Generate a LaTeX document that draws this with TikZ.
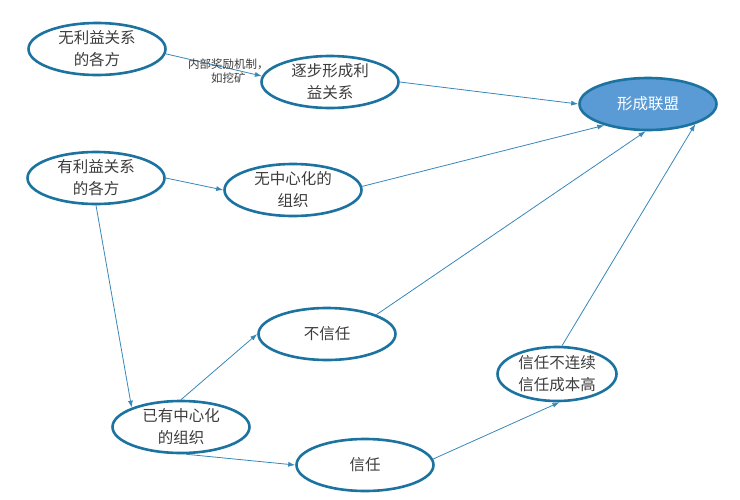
\documentclass[tikz,border=0pt]{standalone}
\usepackage{fontspec}
\setmainfont{Noto Sans CJK SC}
\usetikzlibrary{shapes.geometric,arrows.meta}

\definecolor{rimblue}{RGB}{28,115,160}
\definecolor{fillblue}{RGB}{91,155,213}
\definecolor{lineblue}{RGB}{55,135,185}
\definecolor{txtgray}{RGB}{60,60,60}

\tikzset{
  party/.style={ellipse, draw=rimblue, line width=2.6pt, minimum width=137pt,
    minimum height=52pt, inner sep=0pt, align=center, text=txtgray,
    font=\fontsize{15.5}{22}\selectfont},
  alliance/.style={party, fill=fillblue, text=white},
  flow/.style={draw=lineblue, line width=0.8pt, -{Latex[length=7pt,width=5pt]}},
  note/.style={font=\fontsize{11.5}{13.5}\selectfont, text=txtgray, align=center}
}

\begin{document}
\begin{tikzpicture}[x=1pt,y=-1pt]
\useasboundingbox (0,0) rectangle (740,499);

\node[party] (nofav) at (97,49) {无利益关系\\的各方};
\node[party] (gradual) at (330,82) {逐步形成利\\益关系};
\node[alliance] (union) at (648,104) {形成联盟};
\node[party] (fav) at (96,178) {有利益关系\\的各方};
\node[party] (decent) at (293,190) {无中心化的\\组织};
\node[party] (distrust) at (327,334) {不信任};
\node[party] (central) at (181,427) {已有中心化\\的组织};
\node[party] (trust) at (365,465) {信任};
\node[party, minimum width=119pt, minimum height=54pt] (costly) at (557,374) {信任不连续\\信任成本高};

% upper row
\draw[flow] (nofav.-4) -- node[note, pos=0.6, xshift=5pt, yshift=-4pt] {内部奖励机制，\\如挖矿} (gradual.175);
\draw[flow] (gradual.east) -- (union.west);
\draw[flow] (fav.east) -- (decent.west);
\draw[flow] (decent.3) -- (union.206);

% centralised branch
\draw[flow] (fav.south) -- (central.north west);
\draw[flow] (central.north) -- (distrust.west);
\draw[flow] (distrust.north east) -- (union.-95);
\draw[flow] (central.-80) -- (trust.west);
\draw[flow] (trust.5) -- (costly.-85);
\draw[flow] (costly.80) -- (union.-23);
\end{tikzpicture}
\end{document}
